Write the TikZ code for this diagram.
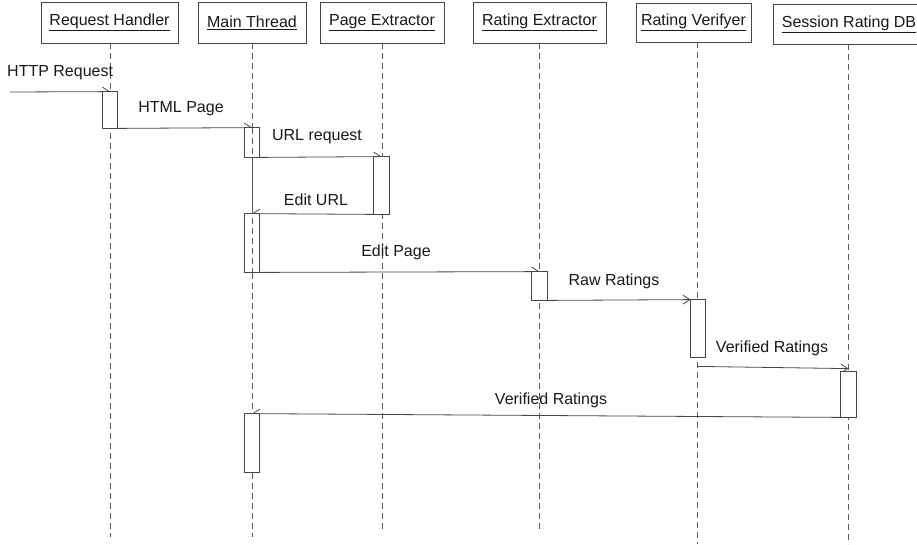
\documentclass[tikz,border=0pt]{standalone}
\usepackage{fontspec}
\setmainfont{Liberation Sans}
\usetikzlibrary{arrows.meta}
\begin{document}
\begin{tikzpicture}[x=1pt,y=-1pt,
  ink/.style={draw=black!72, line width=0.8pt},
  txt/.style={font=\fontsize{16}{19}\selectfont, text=black!90},
  head/.style={ink, txt, fill=white, minimum height=41pt, inner sep=0pt},
  life/.style={draw=black!65, line width=0.8pt, dash pattern=on 6pt off 4pt},
  act/.style={ink, fill=white, minimum width=14pt, inner sep=0pt},
  msg/.style={ink, -{Straight Barb[length=7pt,width=9pt]}},
  lbl/.style={txt, inner sep=0pt}]
\useasboundingbox (0,0) rectangle (917,544);

% object headers
\node[head, minimum width=137pt] (rh) at (109.5,22.5) {\underline{Request Handler}};
\node[head, minimum width=108pt] (mt) at (252,22.5)   {\underline{Main Thread}};
\node[head, minimum width=124pt] (pe) at (382,22.5)   {\underline{Page Extractor}};
\node[head, minimum width=133pt] (re) at (539.5,22.5) {\underline{Rating Extractor}};
\node[head, minimum width=115pt, minimum height=39pt] (rv) at (693.5,22.5) {\underline{Rating Verifyer}};
\node[head, minimum width=152pt, minimum height=40pt] (db) at (849,24) {\underline{Session Rating DB}};

% lifeline ends
\coordinate (rhEnd) at (110,537);
\coordinate (mtEnd) at (252,537);
\coordinate (peEnd) at (382,532);
\coordinate (reEnd) at (539,532);
\coordinate (rvEnd) at (697,544);
\coordinate (dbEnd) at (848,544);

% lifelines
\draw[life] (110,43) -- (rhEnd);
\draw[life] (252,43) -- (mtEnd);
\draw[life] (382,43) -- (peEnd);
\draw[life] (539,43) -- (reEnd);
\draw[life] (697,42) -- (rvEnd);
\draw[life] (848,44) -- (dbEnd);

% activation bars (placed first so messages can refer to them)
\path (110,110)   node[act, minimum height=36pt, draw=none, fill=none] (a1) {}
      (252,142.5) node[act, minimum height=29pt, draw=none, fill=none] (a2) {}
      (381.5,185.5) node[act, minimum height=57pt, minimum width=15pt, draw=none, fill=none] (a3) {}
      (252,243)   node[act, minimum height=58pt, draw=none, fill=none] (a4) {}
      (539.5,286) node[act, minimum height=28pt, minimum width=15pt, draw=none, fill=none] (a5) {}
      (698,328.5) node[act, minimum height=57pt, draw=none, fill=none] (a6) {}
      (848.5,394.5) node[act, minimum height=45pt, minimum width=15pt, draw=none, fill=none] (a7) {}
      (252,443)   node[act, minimum height=58pt, draw=none, fill=none] (a8) {};

% messages
\coordinate (src) at (10,92);
\draw[msg] (src) -- (a1.north);
\draw[msg] (a1.south east) -- (a2.north);
\draw[msg] (a2.south east) -- (a3.north);
\draw[msg] (a3.south west) -- (a4.north);
\draw[msg] (a4.south east) -- (a5.north);
\draw[msg] (a5.south east) -- (a6.north west);
\draw[msg] ([yshift=-9pt]a6.south) -- ([yshift=3pt]a7.north);
\draw[msg] (a7.south west) -- (a8.north);

% visible activation bars
\foreach \a in {a1,a2,a3,a4,a5,a6,a7,a8}
  \draw[ink, fill=white] (\a.north west) rectangle (\a.south east);
% the main thread lifeline shows through its first two bars
\draw[life] (a2.north) -- (a4.south);

% message labels
\node[lbl, anchor=west] (l1) at (7,73) {HTTP Request};
\node[lbl] (l2) at (181,109) {HTML Page};
\node[lbl] (l3) at (317,137) {URL request};
\node[lbl] (l4) at (316,200) {Edit URL};
\node[lbl] (l5) at (396,252) {Edit Page};
\node[lbl] (l6) at (614,281) {Raw Ratings};
\node[lbl] (l7) at (772,348) {Verified Ratings};
\node[lbl] (l8) at (551,400) {Verified Ratings};
\end{tikzpicture}
\end{document}
